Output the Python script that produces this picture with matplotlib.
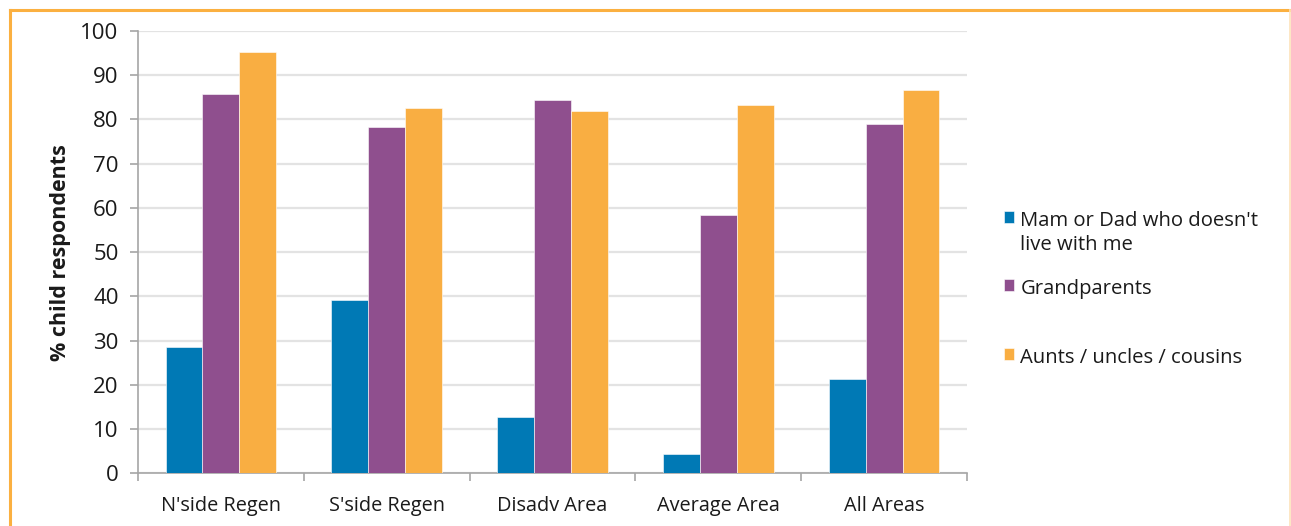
import matplotlib
matplotlib.use("Agg")
import matplotlib.pyplot as plt
from matplotlib.lines import Line2D
from matplotlib.offsetbox import HPacker
import numpy as np

plt.rcParams['font.family'] = ['Open Sans', 'DejaVu Sans']

categories = ["N'side Regen", "S'side Regen", "Disadv Area", "Average Area", "All Areas"]
parent_away = [28.5, 39.1, 12.7, 4.3, 21.3]
grandparents = [85.7, 78.2, 84.4, 58.3, 78.9]
aunts_uncles = [95.2, 82.7, 82.0, 83.2, 86.6]
series_labels = ["Mam or Dad who doesn't\nlive with me", "Grandparents", "Aunts / uncles / cousins"]
series_colors = ["#0079B5", "#8F4F8E", "#F9AE42"]
y_ticks = [0, 10, 20, 30, 40, 50, 60, 70, 80, 90, 100]

W, H = 1291, 526
fig = plt.figure(figsize=(W / 100, H / 100), dpi=100)
ax = fig.add_axes([138 / W, 1 - 473.3 / H, (967 - 138) / W, (473.3 - 31) / H])

x = np.arange(len(categories))
bw = 0.222
series = [parent_away, grandparents, aunts_uncles]
handles = []
for i, (vals, col, lab) in enumerate(zip(series, series_colors, series_labels)):
    b = ax.bar(x + (i - 1) * bw, vals, width=bw, color=col, label=lab,
               edgecolor="white", linewidth=0.4, zorder=3)
    handles.append(b)

ax.set_xlim(-0.5, len(categories) - 0.5)
ax.set_ylim(0, 100)
ax.set_yticks(y_ticks)
ax.set_yticklabels([str(v) for v in y_ticks], fontsize=16, color="#1a1a1a")
ax.yaxis.grid(True, color="#E3E3E3", linewidth=1.6, zorder=0)
ax.set_axisbelow(True)

# category ticks sit between groups
ax.set_xticks(np.arange(-0.5, len(categories), 1.0))
ax.set_xticklabels([])
ax.set_xticks(x, minor=True)
ax.set_xticklabels(categories, minor=True, fontsize=14.3, color="#1a1a1a")
ax.tick_params(axis="x", which="minor", length=0, pad=16)
ax.tick_params(axis="x", which="major", length=6, width=1.2, color="#A6A6A6")
ax.tick_params(axis="y", length=6, width=1.2, color="#A6A6A6", pad=8)

for s in ["top", "right"]:
    ax.spines[s].set_visible(False)
for s in ["left", "bottom"]:
    ax.spines[s].set_color("#A6A6A6")
    ax.spines[s].set_linewidth(1.2)

ax.set_ylabel("% child respondents", fontsize=15.5, fontweight="bold", color="#1a1a1a", labelpad=7)

# one legend entry per series, stacked down the right-hand side
legend_tops = [201, 269, 338]
for h, lab, top in zip(handles, series_labels, legend_tops):
    leg = fig.legend(handles=[h], labels=[lab], loc="upper left",
                     bbox_to_anchor=(994 / W, 1 - top / H), frameon=False,
                     fontsize=14.6, handlelength=0.5, handleheight=0.5,
                     handletextpad=0.3, borderpad=0, labelspacing=0)
    for t in leg.get_texts():
        t.set_color("#1a1a1a")
        t.set_linespacing(1.25)
    # keep the swatch level with the first line of a wrapped label
    for col in leg._legend_handle_box.get_children():
        for item in col.get_children():
            if isinstance(item, HPacker):
                item.align = "top"

# outer frame
frame = "#FBB040"
fig.add_artist(Line2D([9.5 / W, 9.5 / W], [0, 1 - 10 / H], color=frame, lw=2.2, transform=fig.transFigure))
fig.add_artist(Line2D([9.5 / W, 1289.5 / W], [1 - 10 / H, 1 - 10 / H], color=frame, lw=2.2, transform=fig.transFigure))
fig.add_artist(Line2D([1289.5 / W, 1289.5 / W], [0, 1 - 10 / H], color="#FDE3BA", lw=1.2, transform=fig.transFigure))

fig.savefig("out.png", dpi=100)
